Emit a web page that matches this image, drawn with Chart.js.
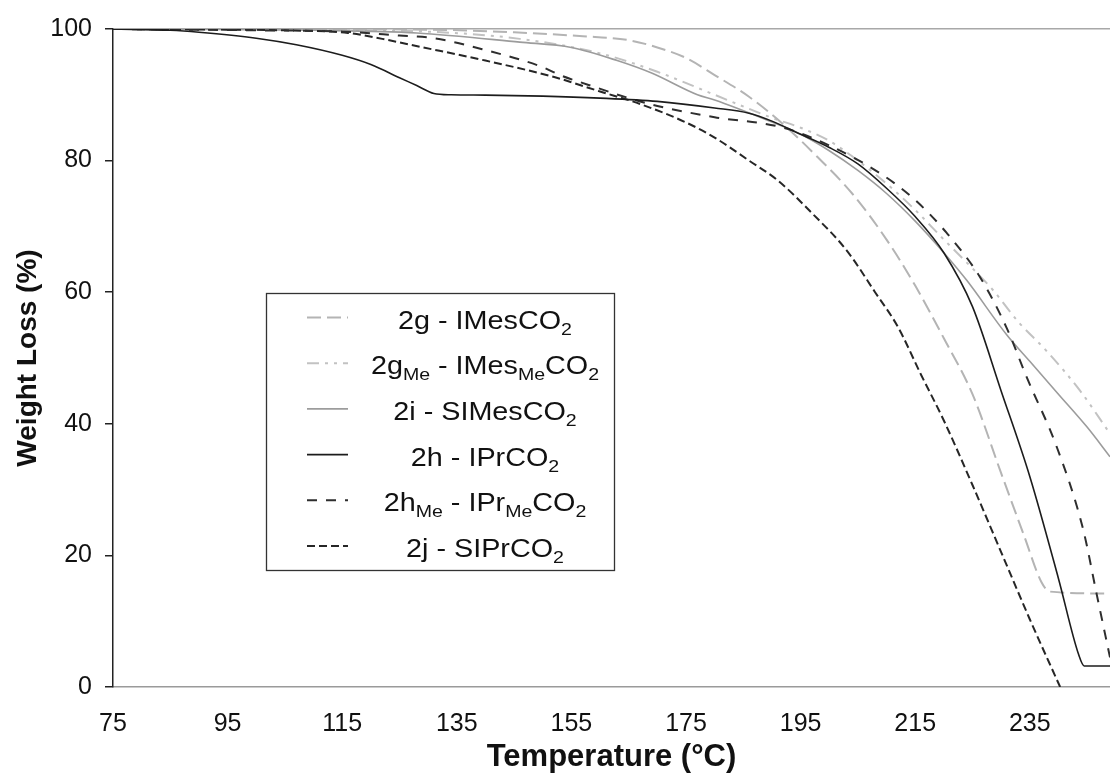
<!DOCTYPE html>
<html>
<head>
<meta charset="utf-8">
<script src="https://cdn.jsdelivr.net/npm/chart.js@4.4.0/dist/chart.umd.min.js"></script>
<style>
  html, body { margin: 0; padding: 0; background: #fff; }
</style>
</head>
<body>
<canvas id="tgaChart" width="1110" height="776"></canvas>
<script>
const xTicks = [75, 95, 115, 135, 155, 175, 195, 215, 235];
const yTicks = [0, 20, 40, 60, 80, 100];

// names use _{..} for subscripts
const seriesNames = [
  '2g - IMesCO_{2}',
  '2g_{Me} - IMes_{Me}CO_{2}',
  '2i - SIMesCO_{2}',
  '2h - IPrCO_{2}',
  '2h_{Me} - IPr_{Me}CO_{2}',
  '2j - SIPrCO_{2}'
];

// temperature (°C) / weight (%)
const temp2g = [75, 100, 130, 145, 157, 165, 170, 175, 180, 186, 192, 198, 204, 210, 215, 220, 225, 230, 234, 237, 238.5, 249];
const wt2g   = [100, 100, 99.9, 99.5, 98.9, 98.3, 97.2, 95.6, 93, 89.7, 85.5, 80.5, 75, 68, 61, 53, 44.5, 32.5, 23, 16, 14.5, 14.2];

const temp2gMe = [75, 110, 130, 146, 160, 170, 180, 190, 195, 200, 205, 210, 215, 220, 224, 228.6, 233, 238, 243.8, 249];
const wt2gMe   = [100, 99.9, 99.6, 98.5, 96.3, 93.5, 90, 86.5, 85, 83, 80, 76.5, 72.5, 68, 64.5, 60.3, 55.5, 51, 45, 38.5];

const temp2i = [75, 110, 128, 146, 155, 163, 169, 177, 180, 189, 195, 200, 205, 210, 215, 220, 224, 231, 235, 240, 245, 249];
const wt2i   = [100, 99.8, 99.4, 98, 97.2, 95.2, 93.3, 90, 89.2, 86.2, 84, 81.5, 78.5, 75, 70.8, 66, 61.8, 53.5, 49.5, 44.5, 39.5, 35];

const temp2h = [75, 85, 90, 100, 107, 115, 120, 125, 128, 131, 134, 140, 150, 160, 170, 180, 186, 190, 195, 200, 205, 210, 215, 220, 225, 230, 235, 240, 243.5, 244.5, 249];
const wt2h   = [100, 99.8, 99.5, 98.6, 97.6, 96, 94.6, 92.6, 91.4, 90.2, 90, 89.95, 89.8, 89.5, 89, 88, 87.2, 86, 84, 82, 79.5, 75.8, 71.5, 66, 57.8, 45, 32, 16.5, 5, 3.2, 3.2];

const temp2hMe = [75, 100, 115, 125, 131, 140, 150, 153, 158, 165, 170, 180, 192, 200, 209, 215, 220.5, 226.3, 231, 234.5, 239.7, 244.3, 246.7, 249];
const wt2hMe   = [100, 99.8, 99.6, 99, 98.6, 96.8, 94.2, 93, 91.5, 89.5, 88.3, 86.6, 85, 82.3, 78, 74, 69, 62.3, 54.5, 47, 36.5, 24, 14, 4.5];

const temp2j = [75, 95, 105, 116, 122, 128.6, 140, 152, 160, 167, 175, 180, 186, 191, 197, 203, 208, 212, 216, 220, 225, 230, 235, 240.3];
const wt2j   = [100, 99.9, 99.8, 99.4, 98.5, 97.3, 95.2, 92.7, 90.5, 88.6, 85.8, 83.5, 80, 77, 72, 66.4, 60, 54.7, 47.5, 40.5, 30.7, 20.5, 10.3, 0];

const temps = [temp2g, temp2gMe, temp2i, temp2h, temp2hMe, temp2j];
const weights = [wt2g, wt2gMe, wt2i, wt2h, wt2hMe, wt2j];

const lineColors = ['#b4b4b4', '#c2c2c2', '#9c9c9c', '#1c1c1c', '#2e2e2e', '#262626'];
const lineWidths = [2, 2, 1.6, 1.6, 2, 2];
const lineDashes = [[14, 6], [12, 6, 3, 6, 3, 6], [], [], [10, 9], [8, 4]];
const drawOrder = [3, 3, 2, 0, 1, 1];

const FONT = "'Liberation Sans', Arial, Helvetica, sans-serif";

function parseRich(s) {
  const parts = [];
  const re = /_\{([^}]*)\}/g;
  let last = 0, m;
  while ((m = re.exec(s))) {
    if (m.index > last) parts.push({ t: s.slice(last, m.index), sub: false });
    parts.push({ t: m[1], sub: true });
    last = re.lastIndex;
  }
  if (last < s.length) parts.push({ t: s.slice(last), sub: false });
  return parts;
}

const normFont = '25px ' + FONT;
const subFont = '17px ' + FONT;

function drawRich(ctx, text, cx, baseY, stretch) {
  const parts = parseRich(text);
  let w = 0;
  parts.forEach(p => { ctx.font = p.sub ? subFont : normFont; p.w = ctx.measureText(p.t).width; w += p.w; });
  ctx.save();
  ctx.translate(cx, baseY);
  ctx.scale(stretch, 1);
  let x = -w / 2;
  ctx.textBaseline = 'alphabetic';
  ctx.textAlign = 'left';
  ctx.fillStyle = '#111';
  parts.forEach(p => {
    ctx.font = p.sub ? subFont : normFont;
    ctx.fillText(p.t, x, p.sub ? 6 : 0);
    x += p.w;
  });
  ctx.restore();
}

const boxLegend = {
  id: 'boxLegend',
  afterDraw(chart) {
    const ctx = chart.ctx;
    const left = 266, top = 293, width = 348, height = 277;
    ctx.save();
    ctx.fillStyle = '#fff';
    ctx.fillRect(left, top, width, height);
    ctx.strokeStyle = '#333';
    ctx.lineWidth = 1.3;
    ctx.strokeRect(left + 0.5, top + 0.5, width, height);
    chart.data.datasets.forEach((ds, i) => {
      const y = top + 24.5 + i * 45.7;
      ctx.strokeStyle = ds.borderColor;
      ctx.lineWidth = ds.borderWidth;
      ctx.setLineDash(ds.borderDash);
      ctx.beginPath();
      ctx.moveTo(left + 41, y);
      ctx.lineTo(left + 82, y);
      ctx.stroke();
      ctx.setLineDash([]);
      drawRich(ctx, seriesNames[i], 485, y + 11, 1.15);
    });
    ctx.restore();
  }
};

const datasets = seriesNames.map((name, i) => ({
  label: name.replace(/_\{([^}]*)\}/g, '$1'),
  data: temps[i].map((t, k) => ({ x: t, y: weights[i][k] })),
  borderColor: lineColors[i],
  borderWidth: lineWidths[i],
  borderDash: lineDashes[i],
  order: drawOrder[i],
  pointRadius: 0,
  fill: false,
  cubicInterpolationMode: 'monotone'
}));

new Chart(document.getElementById('tgaChart').getContext('2d'), {
  type: 'line',
  data: { datasets: datasets },
  options: {
    responsive: false,
    animation: false,
    layout: { padding: { top: 29, right: 0, left: 0, bottom: 0 } },
    plugins: {
      legend: { display: false },
      tooltip: { enabled: false }
    },
    scales: {
      x: {
        type: 'linear',
        min: 75,
        max: 249,
        afterBuildTicks: s => { s.ticks = xTicks.map(v => ({ value: v })); },
        afterFit: s => { s.height = 89; },
        grid: { drawOnChartArea: false, drawTicks: false },
        border: { color: '#9a9a9a', width: 1.5 },
        ticks: {
          color: '#111',
          font: { family: FONT, size: 25 },
          padding: 22,
          maxRotation: 0,
          autoSkip: false
        },
        title: {
          display: true,
          text: 'Temperature (°C)',
          color: '#111',
          font: { family: FONT, size: 31, weight: 'bold' },
          padding: { top: 0, bottom: 0 }
        }
      },
      y: {
        type: 'linear',
        min: 0,
        max: 100,
        afterBuildTicks: s => { s.ticks = yTicks.map(v => ({ value: v })); },
        afterFit: s => { s.width = 113; },
        grid: {
          color: c => (c.tick && c.tick.value === 100 ? '#a8a8a8' : 'rgba(0,0,0,0)'),
          lineWidth: 1.5,
          tickColor: '#222',
          tickLength: 8
        },
        border: { color: '#222', width: 1.5 },
        ticks: {
          color: '#111',
          font: { family: FONT, size: 25 },
          padding: 13
        },
        title: {
          display: true,
          text: 'Weight Loss (%)',
          color: '#111',
          font: { family: FONT, size: 28, weight: 'bold' },
          padding: { top: 11, bottom: 0 }
        }
      }
    }
  },
  plugins: [boxLegend]
});
</script>
</body>
</html>
